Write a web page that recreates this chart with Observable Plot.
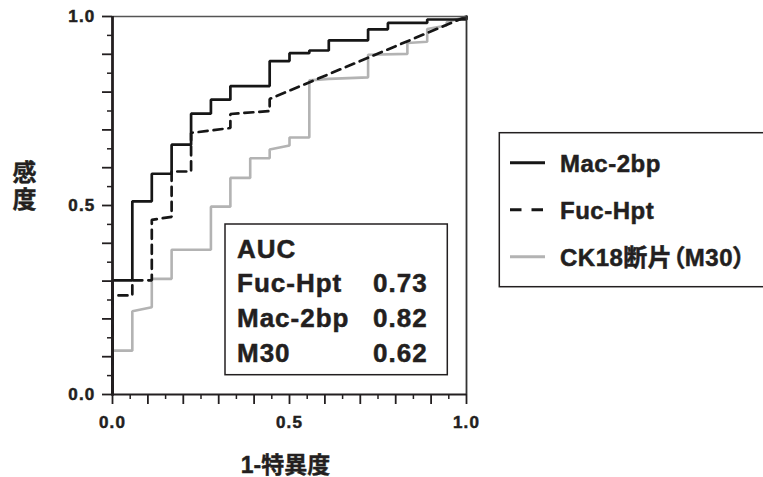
<!DOCTYPE html>
<html><head><meta charset="utf-8">
<script src="https://cdn.jsdelivr.net/npm/d3@7"></script>
<script src="https://cdn.jsdelivr.net/npm/@observablehq/plot@0.6"></script>
<style>
html,body{margin:0;padding:0;background:#fff;}
#wrap{position:relative;width:763px;height:477px;overflow:hidden;font-family:"Liberation Sans",Arial,"Noto Sans CJK JP",sans-serif;font-weight:bold;color:#231f20;}
#wrap svg{position:absolute;left:0;top:0;}
g[aria-label="x-axis tick label"] text, g[aria-label="y-axis tick label"] text{letter-spacing:1.2px;font-size:17px !important;font-weight:bold;stroke:#231f20;stroke-width:0.5px;}
.heavy{stroke:#231f20;stroke-width:0.5px;}
</style></head><body><div id="wrap"></div>
<script>
// ---- data ----
const macX = [0,0,0.056,0.056,0.111,0.111,0.167,0.167,0.222,0.222,0.278,0.278,0.333,0.333,0.444,0.444,0.5,0.5,0.556,0.556,0.611,0.611,0.722,0.722,0.778,0.778,0.889,0.889,1,1];
const macY = [0,0.302,0.302,0.511,0.511,0.584,0.584,0.661,0.661,0.743,0.743,0.78,0.78,0.816,0.816,0.882,0.882,0.903,0.903,0.91,0.91,0.937,0.937,0.966,0.966,0.983,0.983,0.992,0.992,1];
const fucX = [0,0,0.056,0.056,0.111,0.111,0.167,0.167,0.222,0.222,0.333,0.333,0.444,0.444,1];
const fucY = [0,0.262,0.262,0.302,0.302,0.462,0.47,0.59,0.59,0.692,0.705,0.742,0.75,0.782,1];
const m30X = [0,0,0.056,0.056,0.111,0.111,0.167,0.167,0.278,0.278,0.333,0.333,0.389,0.389,0.444,0.444,0.5,0.5,0.556,0.556,0.611,0.722,0.722,0.833,0.833,0.889,0.889,0.944,0.944,1];
const m30Y = [0,0.116,0.116,0.22,0.231,0.306,0.306,0.383,0.383,0.497,0.497,0.573,0.573,0.625,0.625,0.648,0.659,0.68,0.68,0.831,0.835,0.839,0.899,0.901,0.93,0.933,0.967,0.976,0.985,1];

const legendNames = ["Mac-2bp","Fuc-Hpt","CK18断片（M30）"];
const aucTitle = "AUC";
const aucNames = ["Fuc-Hpt","Mac-2bp","M30"];
const aucValues = [0.73,0.82,0.62];
const xLabelText = "1-特異度";
const yLabelText = "感度";
const tickLabels = [0,0.5,1];
const majorTicks = [0,0.1,0.2,0.3,0.4,0.5,0.6,0.7,0.8,0.9,1];
const minorTicks = [0.05,0.15,0.25,0.35,0.45,0.55,0.65,0.75,0.85,0.95];

// ---- styles ----
const ink = "#231f20";
const styles = [
  {stroke:"#161616", dash:null, legendDash:null},
  {stroke:"#161616", dash:"9,6", legendDash:"11.5,10"},
  {stroke:"#b3b3b3", dash:null, legendDash:null}
];
const toRows = (xs, ys) => xs.map((x,i)=>({x, y: ys[i]}));
const mac = toRows(macX, macY), fuc = toRows(fucX, fucY), m30 = toRows(m30X, m30Y);

const font = '"Liberation Sans",Arial,"Noto Sans CJK JP",sans-serif';
const plot = Plot.plot({
  width:763, height:477,
  marginLeft:112, marginRight:297, marginTop:16, marginBottom:83,
  style:{fontFamily:font, fontWeight:"bold", color:ink, background:"transparent", overflow:"visible"},
  x:{domain:[0,1], axis:null},
  y:{domain:[0,1], axis:null},
  marks:[
    Plot.line(m30, {x:"x", y:"y", stroke:styles[2].stroke, strokeWidth:2.6, strokeLinejoin:"miter"}),
    Plot.line(fuc, {x:"x", y:"y", stroke:styles[1].stroke, strokeWidth:2.7, strokeDasharray:styles[1].dash, strokeLinejoin:"miter"}),
    Plot.line(mac, {x:"x", y:"y", stroke:styles[0].stroke, strokeWidth:2.7, strokeLinejoin:"miter"}),
    Plot.ruleY([1], {stroke:"#555", strokeWidth:1.5}),
    Plot.ruleX([1], {stroke:"#333", strokeWidth:1.8}),
    Plot.ruleX([0], {stroke:ink, strokeWidth:2.8}),
    Plot.ruleY([0], {stroke:ink, strokeWidth:2.2}),
    Plot.axisX({ticks:majorTicks, tickSize:10, tickFormat:()=>"", strokeWidth:1.8, label:null}),
    Plot.axisX({ticks:minorTicks, tickSize:5, tickFormat:()=>"", strokeWidth:1.5, label:null}),
    Plot.axisY({ticks:majorTicks, tickSize:10, tickFormat:()=>"", strokeWidth:1.8, label:null}),
    Plot.axisY({ticks:minorTicks, tickSize:5, tickFormat:()=>"", strokeWidth:1.5, label:null}),
    Plot.axisX({ticks:tickLabels, tickSize:0, tickPadding:21, tickFormat:d3.format(".1f"), fontSize:17, label:null}),
    Plot.axisY({ticks:tickLabels, tickSize:0, tickPadding:17, tickFormat:d3.format(".1f"), fontSize:17, label:null}),
    Plot.text([xLabelText], {text:d=>d, frameAnchor:"bottom", textAnchor:"middle", lineAnchor:"middle", dx:-4, dy:71, fontSize:23, fontWeight:"bold", fill:ink, stroke:ink, strokeWidth:0.4}),
    Plot.text([yLabelText], {text:d=>d.split("").join("\n"), frameAnchor:"left", textAnchor:"middle", lineAnchor:"middle", dx:-88, dy:-20, fontSize:24, lineHeight:1.125, fontWeight:"bold", fill:ink, stroke:ink, strokeWidth:0.4})
  ]
});
const wrap = document.getElementById("wrap");
wrap.appendChild(plot);

// ---- overlay: AUC box and legend ----
const ov = d3.select(wrap).append("svg").attr("width",763).attr("height",477)
  .style("font-family",font).style("font-weight","bold").style("pointer-events","none");

// AUC box
ov.append("rect").attr("x",225).attr("y",224).attr("width",222.3).attr("height",150.7)
  .attr("fill","#fff").attr("stroke",ink).attr("stroke-width",1.5);
const aucRows = [{name:aucTitle, value:null}].concat(aucNames.map((n,i)=>({name:n, value:aucValues[i]})));
aucRows.forEach((r,i)=>{
  const yb = 257.5 + i*34.8;
  ov.append("text").attr("class","heavy").attr("x",237).attr("y",yb).attr("font-size",26).attr("fill",ink)
    .style("letter-spacing","1px").text(r.name);
  if (r.value!=null) ov.append("text").attr("class","heavy").attr("x",373).attr("y",yb).attr("font-size",26).attr("fill",ink)
    .style("letter-spacing","1px").text(d3.format(".2f")(r.value));
});

// legend
ov.append("rect").attr("x",499.3).attr("y",132.7).attr("width",320).attr("height",154)
  .attr("fill","none").attr("stroke",ink).attr("stroke-width",1.5);
legendNames.forEach((n,i)=>{
  const yc = 162.7 + i*47;
  ov.append("line").attr("x1",510).attr("x2",545).attr("y1",yc).attr("y2",yc)
    .attr("stroke",styles[i].stroke).attr("stroke-width",3)
    .attr("stroke-dasharray",styles[i].legendDash);
  ov.append("text").attr("class","heavy").attr("x",560).attr("y",yc+9.6).attr("font-size",24).attr("fill",ink)
    .style("letter-spacing","0.5px").style("font-feature-settings",'"palt"').text(n);
});
</script></body></html>
